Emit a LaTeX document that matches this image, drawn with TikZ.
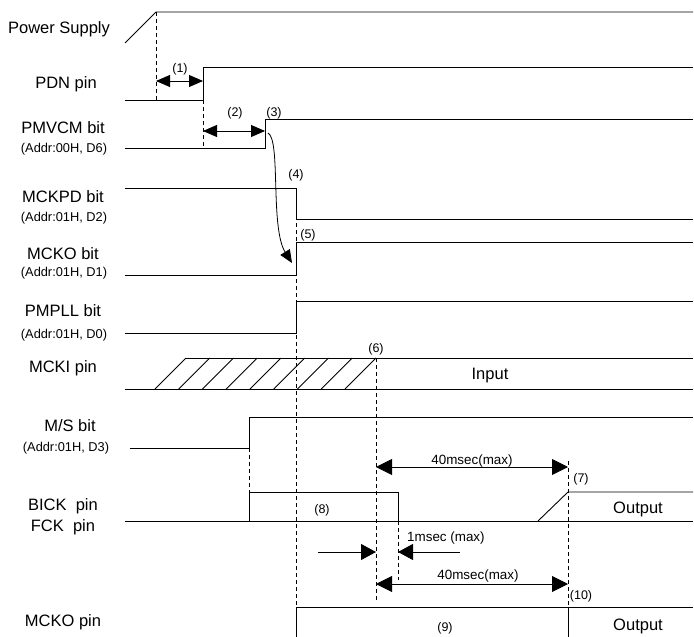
\documentclass[tikz,border=0pt]{standalone}
\usepackage{fontspec}
\setmainfont{Liberation Sans}
\usetikzlibrary{arrows.meta}
\begin{document}
\begin{tikzpicture}[x=1pt,y=-1pt,
  sig/.style={line width=0.9pt},
  guide/.style={line width=0.8pt, dash pattern=on 4pt off 3pt},
  sdim/.style={line width=0.9pt, {Triangle[length=14pt,width=12pt]}-{Triangle[length=14pt,width=12pt]}},
  dim/.style={line width=0.9pt, {Triangle[length=16pt,width=16pt]}-{Triangle[length=16pt,width=16pt]}},
  half/.style={line width=0.9pt, -{Triangle[length=15pt,width=16pt]}},
  big/.style={anchor=base, inner sep=0pt, font=\fontsize{16.5}{18}\selectfont},
  addr/.style={anchor=base, inner sep=0pt, font=\fontsize{12.8}{14}\selectfont},
  num/.style={anchor=base, inner sep=0pt, font=\fontsize{12.5}{14}\selectfont},
  ms/.style={anchor=base, inner sep=0pt, font=\fontsize{13.4}{15}\selectfont}]
\useasboundingbox (0,0) rectangle (694,637);

% labels
\node[big] (lps) at (59,33) {Power Supply};
\node[big] (lpdn) at (66,88) {PDN pin};
\node[big] (lpmv) at (63,133) {PMVCM bit};
\node[addr] (apmv) at (64,152) {(Addr:00H, D6)};
\node[big] (lmckpd) at (63,202) {MCKPD bit};
\node[addr] (amckpd) at (64,221) {(Addr:01H, D2)};
\node[big] (lmcko) at (63,259) {MCKO bit};
\node[addr] (amcko) at (64,276) {(Addr:01H, D1)};
\node[big] (lpll) at (63,316) {PMPLL bit};
\node[addr] (apll) at (64,338) {(Addr:01H, D0)};
\node[big] (lmcki) at (63,372) {MCKI pin};
\node[big] (lms) at (70,431) {M/S bit};
\node[addr] (ams) at (66,451) {(Addr:01H, D3)};
\node[big] (lbick) at (63,510) {BICK\ \ pin};
\node[big] (lfck) at (63,531) {FCK\ \ pin};
\node[big] (lmckop) at (63,626) {MCKO pin};

% Power supply
\draw[sig] (125,43) -- (156,12) -- (693,12);
\draw[guide] (156,12) -- (156,100);
% PDN
\draw[sig] (125,100) -- (203,100) -- (203,67) -- (693,67);
\draw[guide] (203,100) -- (203,148);
\draw[sdim] (156,81) -- (203,81);
\node[num] (n1) at (180,72) {(1)};
% PMVCM
\draw[sig] (125,148) -- (265,148) -- (265,119) -- (693,119);
\draw[sdim] (203,131) -- (265,131);
\node[num] (n2) at (235,116) {(2)};
\node[num] (n3) at (274,116) {(3)};
% curved arrow (4)
\draw[line width=0.8pt, -{Triangle[length=13pt,width=11pt]}] (268,133) .. controls (281,140) and (270,228) .. (292,263);
\node[num] (n4) at (296,178) {(4)};
% guide at 296
\draw[guide] (296,188) -- (296,607);
% MCKPD
\draw[sig] (125,188) -- (296,188) -- (296,219) -- (693,219);
\node[num] (n5) at (308,238) {(5)};
% MCKO bit
\draw[sig] (125,275) -- (296,275) -- (296,242) -- (693,242);
% PMPLL
\draw[sig] (125,333) -- (296,333) -- (296,301) -- (693,301);
% MCKI
\draw[sig] (186,358) -- (693,358);
\draw[sig] (125,389) -- (693,389);
\foreach \k in {0,...,8} \draw[line width=0.8pt] (155+23.75*\k,389) -- ++(31,-31);
\draw[guide] (376,358) -- (376,600);
\node[num] (n6) at (376,352) {(6)};
\node[big] (tin) at (490,379) {Input};
% M/S
\draw[sig] (130,448) -- (249,448) -- (249,417) -- (693,417);
\draw[guide] (249,448) -- (249,492);
% BICK / FCK
\draw[sig] (125,521) -- (693,521);
\draw[sig] (249,521) -- (249,492) -- (398,492) -- (398,521);
\draw[sig] (538,521) -- (568,492) -- (693,492);
\draw[guide] (398,521) -- (398,580);
\draw[guide] (568,461) -- (568,607);
\node[num] (n8) at (322,513) {(8)};
\node[num] (n7) at (581,482) {(7)};
\node[big] (tout1) at (638,513) {Output};
\draw[dim] (376,467) -- (568,467);
\node[ms] (m1) at (472,464) {40msec(max)};
% 1 msec
\draw[half] (318,552) -- (376,552);
\draw[half] (460,552) -- (398,552);
\node[ms, anchor=base west] (m2) at (407,541) {1msec (max)};
\draw[dim] (376,584) -- (568,584);
\node[ms] (m3) at (478,579) {40msec(max)};
\node[num] (n10) at (581,599) {(10)};
% MCKO pin
\draw[sig] (296,637) -- (296,607) -- (693,607);
\draw[sig] (568,607) -- (568,637);
\node[num] (n9) at (445,631) {(9)};
\node[big] (tout2) at (638,630) {Output};
\end{tikzpicture}
\end{document}
